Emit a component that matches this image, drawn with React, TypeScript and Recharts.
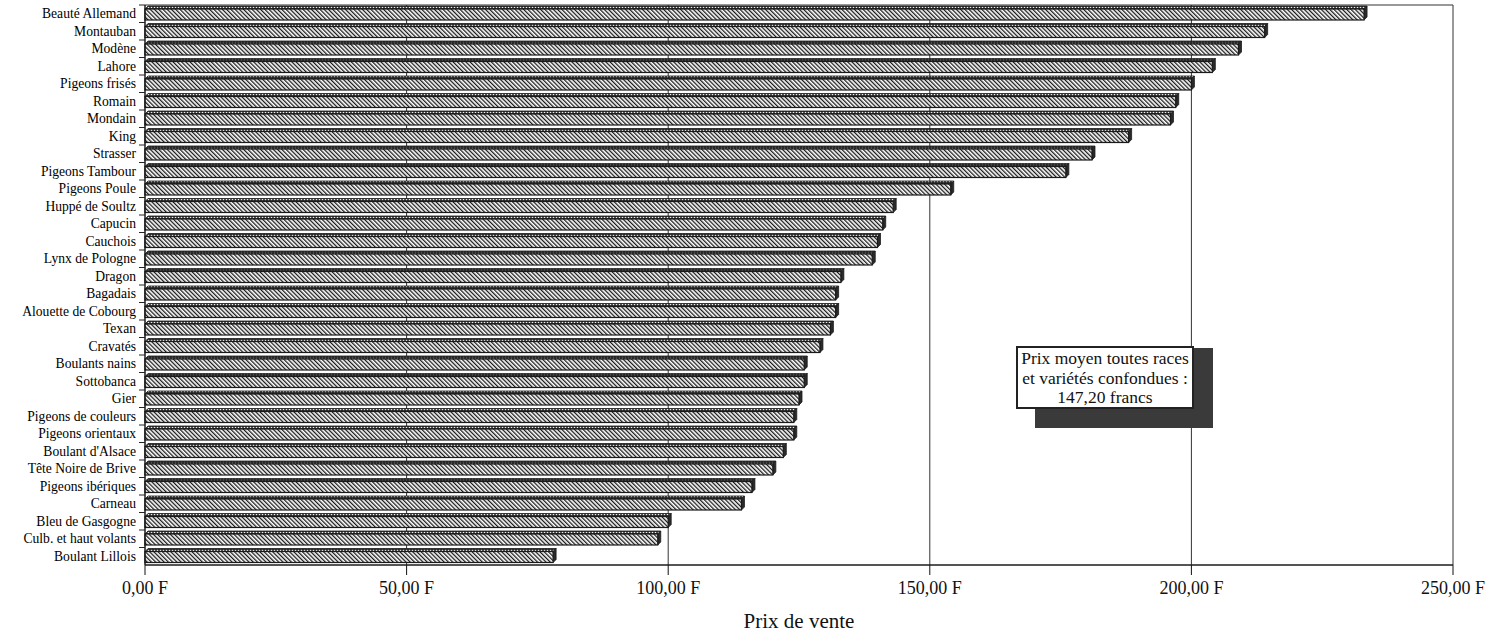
import React from "react";
import {
    BarChart,
    Bar,
    XAxis,
    YAxis,
    CartesianGrid,
} from "recharts";

const races = [
    "Beauté Allemand", "Montauban", "Modène", "Lahore", "Pigeons frisés", "Romain",
    "Mondain", "King", "Strasser", "Pigeons Tambour", "Pigeons Poule", "Huppé de Soultz",
    "Capucin", "Cauchois", "Lynx de Pologne", "Dragon", "Bagadais", "Alouette de Cobourg",
    "Texan", "Cravatés", "Boulants nains", "Sottobanca", "Gier", "Pigeons de couleurs",
    "Pigeons orientaux", "Boulant d'Alsace", "Tête Noire de Brive", "Pigeons ibériques",
    "Carneau", "Bleu de Gasgogne", "Culb. et haut volants", "Boulant Lillois",
];

const prix = [
    233, 214, 209, 204, 200, 197, 196, 188, 181, 176, 154, 143, 141, 140, 139, 133,
    132, 132, 131, 129, 126, 126, 125, 124, 124, 122, 120, 116, 114, 100, 98, 78,
];

const prixTicks = [0, 50, 100, 150, 200, 250];

const W = 1504;
const H = 638;
const TOP = 5;
const AXIS_H = 73;
const BAND = (H - TOP - AXIS_H) / races.length;
const DEPTH = 3;
const SERIF = "'Liberation Serif', 'DejaVu Serif', serif";

const data = races.map((race, i) => ({ race, prix: prix[i] }));

// bar drawn as a flat 3D slab: hatched front, dotted top, dark end
const Slab = (props: any) => {
    const { x, y, width, height } = props;
    if (!width || width <= 0) return null;
    const d = DEPTH;
    const yy = y + 1;
    return (
        <g>
            <polygon
                points={`${x},${yy} ${x + d},${yy - d} ${x + width + d},${yy - d} ${x + width},${yy}`}
                fill="url(#dots)"
                stroke="#1a1a1a"
                strokeWidth={0.8}
            />
            <polygon
                points={`${x + width},${yy} ${x + width + d},${yy - d} ${x + width + d},${yy + height - d} ${x + width},${yy + height}`}
                fill="#2a2a2a"
                stroke="#1a1a1a"
                strokeWidth={0.8}
            />
            <rect x={x} y={yy} width={width} height={height} fill="url(#hatch)" stroke="#1a1a1a" strokeWidth={1.2} />
        </g>
    );
};

const RaceTick = (props: any) => {
    const { x, y, payload } = props;
    return (
        <g>
            <text x={x} y={y} dy={4.5} textAnchor="end" fontFamily={SERIF} fontSize={13.6} fill="#000">
                {payload.value}
            </text>
            <line x1={x + 3} x2={x + 9} y1={y - BAND / 2} y2={y - BAND / 2} stroke="#222" />
        </g>
    );
};

export default function App() {
    return (
        <div style={{ position: "absolute", left: 0, top: 0, width: W, height: H, background: "#fff" }}>
            <BarChart
                width={W}
                height={H}
                data={data}
                layout="vertical"
                margin={{ top: TOP, right: 51, left: 0, bottom: 0 }}
                barSize={11}
            >
                <defs>
                    <pattern id="hatch" width="3" height="3" patternUnits="userSpaceOnUse" patternTransform="rotate(-45)">
                        <rect width="3" height="3" fill="#fff" />
                        <line x1="0" y1="0" x2="0" y2="3" stroke="#1a1a1a" strokeWidth={2.6} />
                    </pattern>
                    <pattern id="dots" width="3" height="3" patternUnits="userSpaceOnUse">
                        <rect width="3" height="3" fill="#2a2a2a" />
                        <circle cx="1.5" cy="1.5" r="0.8" fill="#eee" />
                    </pattern>
                </defs>
                <CartesianGrid
                    stroke="#333"
                    strokeWidth={1}
                    horizontalCoordinatesGenerator={({ offset }: any) => [offset.top, offset.top + offset.height]}
                />
                <XAxis
                    type="number"
                    domain={[0, 250]}
                    ticks={prixTicks}
                    tickFormatter={(v: number) => `${v},00 F`}
                    height={AXIS_H}
                    tickSize={10}
                    tickMargin={6}
                    stroke="#111"
                    tick={{ fontFamily: SERIF, fontSize: 18, fill: "#111" }}
                    label={{
                        value: "Prix de vente",
                        position: "insideBottom",
                        offset: 10,
                        fontFamily: SERIF,
                        fontSize: 21,
                        fill: "#111",
                    }}
                />
                <YAxis
                    type="category"
                    dataKey="race"
                    width={145}
                    interval={0}
                    tickLine={false}
                    tickSize={6}
                    tickMargin={3}
                    stroke="#111"
                    tick={<RaceTick />}
                />
                <Bar dataKey="prix" shape={<Slab />} isAnimationActive={false} />
            </BarChart>
            <div
                style={{
                    position: "absolute",
                    left: 1035,
                    top: 348,
                    width: 178,
                    height: 80,
                    background: "#3a3a3a",
                }}
            />
            <div
                style={{
                    position: "absolute",
                    left: 1016,
                    top: 346,
                    width: 174,
                    height: 58,
                    border: "2px solid #222",
                    background: "#fff",
                    fontFamily: SERIF,
                    fontSize: 17.5,
                    lineHeight: "19.5px",
                    textAlign: "center",
                    color: "#111",
                    paddingTop: 1,
                    whiteSpace: "nowrap",
                }}
            >
                Prix moyen toutes races
                <br />
                et variétés confondues :
                <br />
                147,20 francs
            </div>
        </div>
    );
}
